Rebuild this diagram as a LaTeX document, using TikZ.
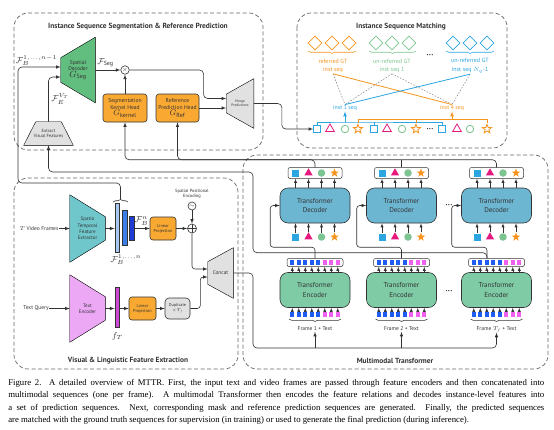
\RequirePackage{fix-cm}
\documentclass[tikz,border=0pt]{standalone}
\usepackage{fontspec}
\setmainfont{PT Sans}
\newfontfamily\capfont{Liberation Serif}
\usepackage{amsmath}
\usetikzlibrary{shapes.geometric,calc,backgrounds,decorations.pathreplacing,positioning}

\definecolor{linegray}{HTML}{333333}
\definecolor{decgreen}{HTML}{62BE7F}
\definecolor{headorange}{HTML}{F9A932}
\definecolor{boxgray}{HTML}{E1E1E1}
\definecolor{stfeteal}{HTML}{6FC7CB}
\definecolor{txtpink}{HTML}{ECA8F5}
\definecolor{tfblue}{HTML}{6DB6D2}
\definecolor{tfgreen}{HTML}{7ECBA6}
\definecolor{fmlight}{HTML}{A7C9F0}
\definecolor{fmmid}{HTML}{3B7FE6}
\definecolor{fmdark}{HTML}{1E3BD4}
\definecolor{fmpink}{HTML}{D046D6}
\definecolor{icblue}{HTML}{2BA6E1}
\definecolor{icpink}{HTML}{E5197E}
\definecolor{icgreen}{HTML}{7DC590}
\definecolor{icorange}{HTML}{F7941E}
\definecolor{tokblue}{HTML}{1F5CF2}
\definecolor{tokpink}{HTML}{F060F0}

\newcommand{\fsz}[2]{\fontsize{#1}{#2}\selectfont}
\newcommand{\dotrow}{\textbullet\kern0.3pt\textbullet\kern0.3pt\textbullet}
% trapezoids drawn behind a (text only) node
\newcommand{\trapleft}[3]{% narrow side on the left
  \begin{scope}[on background layer]
    \filldraw[fill=#3] ($(#1.north west)+(0,#2)$) -- (#1.north east) -- (#1.south east) -- ($(#1.south west)+(0,-#2)$) -- cycle;
  \end{scope}}
\newcommand{\trapright}[3]{% narrow side on the right
  \begin{scope}[on background layer]
    \filldraw[fill=#3] (#1.north west) -- ($(#1.north east)+(0,#2)$) -- ($(#1.south east)+(0,-#2)$) -- (#1.south west) -- cycle;
  \end{scope}}
\newcommand{\traptop}[3]{% narrow side on top
  \begin{scope}[on background layer]
    \filldraw[fill=#3] ($(#1.north west)+(#2,0)$) -- ($(#1.north east)+(-#2,0)$) -- (#1.south east) -- (#1.south west) -- cycle;
  \end{scope}}

\tikzset{%
  dashbox/.style  = {draw=black!60, dash pattern=on 4pt off 2.5pt, rounded corners=14pt, line width=0.7pt},
  boxtitle/.style = {font=\bfseries\fsz{7.4}{8}, inner sep=1pt},
  head/.style     = {draw, fill=headorange, rounded corners=3pt, align=center, inner sep=0pt},
  tfblock/.style  = {draw, rounded corners=8pt, align=center, minimum width=70pt,
    minimum height=35pt, font=\fsz{7}{9.5}},
  trapnode/.style = {align=center, inner sep=0pt},
  tokbox/.style   = {draw, fill=white, rounded corners=2pt, line width=0.5pt},
  tok/.style      = {rectangle, minimum size=4.3pt, inner sep=0pt},
  fbar/.style     = {draw, minimum width=4.5pt, inner sep=0pt, line width=0.4pt},
  lbl/.style      = {inner sep=0.5pt, align=center},
  mathlbl/.style  = {inner sep=0.5pt, font=\fsz{8.5}{8.5}},
  dots/.style     = {inner sep=0.5pt, font=\fsz{4.5}{4.5}},
  thinarrow/.style= {-latex, line width=0.4pt},
  plusnode/.style = {circle, draw, minimum size=9pt, inner sep=0pt,
    path picture={\draw (path picture bounding box.north) -- (path picture bounding box.south)
      (path picture bounding box.west) -- (path picture bounding box.east);}},
  % filled query / prediction icons
  fsq/.style      = {rectangle, fill=icblue, minimum size=7pt, inner sep=0pt},
  ftri/.style     = {regular polygon, regular polygon sides=3, fill=icpink, minimum size=9.5pt, inner sep=0pt},
  fcirc/.style    = {circle, fill=icgreen, minimum size=7.5pt, inner sep=0pt},
  fstar/.style    = {star, star points=5, star point ratio=2.4, fill=icorange, minimum size=9pt, inner sep=0pt},
  % outlined icons of the prediction sequences
  osq/.style      = {rectangle, draw=icblue, line width=0.8pt, minimum size=7pt, inner sep=0pt},
  otri/.style     = {regular polygon, regular polygon sides=3, draw=icpink, line width=0.8pt, minimum size=10pt, inner sep=0pt},
  ocirc/.style    = {circle, draw=icgreen, line width=0.8pt, minimum size=7.5pt, inner sep=0pt},
  ostar/.style    = {star, star points=5, star point ratio=2.4, draw=icorange, line width=0.8pt, minimum size=9.5pt, inner sep=0pt},
  gtdia/.style    = {diamond, aspect=1, line width=0.8pt, minimum size=14pt, inner sep=0pt}
}

\begin{document}
\begin{tikzpicture}[x=1pt, y=-1pt, line width=0.6pt, color=linegray]
  \useasboundingbox (0,0) rectangle (554,429);
  \begin{scope}[on background layer]
    \fill[white] (0,0) rectangle (554,429);
  \end{scope}

  % the four groups
  \draw[dashbox] (14,13) rectangle (263,150);
  \draw[dashbox] (297,13) rectangle (507,148);
  \draw[dashbox] (14,178) rectangle (238,369);
  \draw[dashbox] (243,155) rectangle (548,369);

  % ---------------- segmentation & reference prediction
  \node[boxtitle] (tltitle) at (138,27) {Instance Sequence Segmentation \& Reference Prediction};
  \node[trapnode, minimum width=34, minimum height=65, font=\fsz{5.5}{6.5}] (segdec) at (78,70)
    {Spatial\\Decoder\\{\fsz{9}{9}$G_{\mathrm{Seg}}$}};
  \trapleft{segdec}{20.5}{decgreen}
  \node[circle, draw, minimum size=8.5, inner sep=0, font=\fsz{6}{6}] (mult) at (125,70) {$\times$};
  \node[mathlbl] (fseg) at (105.5,63) {$\mathcal{F}_{\mathrm{Seg}}$};
  \node[head, minimum width=44, minimum height=28, font=\fsz{5.6}{6.5}] (kernhead) at (125,108)
    {Segmentation\\Kernel Head\\{\fsz{8}{8}$G_{\mathrm{kernel}}$}};
  \node[head, minimum width=43, minimum height=28, font=\fsz{5.6}{6.5}] (refhead) at (177.5,108)
    {Reference\\Prediction Head\\{\fsz{8}{8}$G_{\mathrm{Ref}}$}};
  \node[trapnode, minimum width=27, minimum height=49, font=\fsz{3.6}{4.4}] (merge) at (240,103.5)
    {Merge\\Predictions};
  \trapleft{merge}{15.5}{boxgray}
  \node[trapnode, minimum width=49, minimum height=23, font=\fsz{4.5}{5.3}] (extvis) at (48.5,133.5)
    {Extract\\Visual Features};
  \traptop{extvis}{12}{boxgray}
  \node[mathlbl] (fbprev) at (36.5,60.5) {$\mathcal{F}_B^{1,\ldots,n-1}$};
  \node[mathlbl] (fevr) at (60,99) {$\mathcal{F}_E^{V_T}$};

  \draw[-latex] (segdec.east) -- (mult);
  \draw[-latex] (kernhead) -- (mult);
  \draw[-latex, rounded corners=4] (mult.east) -- ++(74,0) |- ($(merge.west)+(0,-5)$);
  \draw[-latex] (refhead.east) -- (refhead.east -| merge.west);
  \draw[-latex, rounded corners=4] (extvis.north) |- ($(segdec.west)+(0,7)$);

  % ---------------- instance sequence matching
  \node[boxtitle] (trtitle) at (401,27) {Instance Sequence Matching};
  \foreach \k/\cx in {1/315,2/332,3/349} \node[gtdia, draw=icorange] (go\k) at (\cx,43) {};
  \foreach \k/\cx in {1/376,2/392,3/409} \node[gtdia, draw=icgreen] (gg\k) at (\cx,43) {};
  \foreach \k/\cx in {1/453,2/470,3/487} \node[gtdia, draw=icblue] (gb\k) at (\cx,43) {};
  \draw[icorange, decorate, decoration={brace, amplitude=2.5pt}] (356,51) -- (308,51);
  \draw[icgreen, decorate, decoration={brace, amplitude=2.5pt}] (416,51) -- (369,51);
  \draw[icblue, decorate, decoration={brace, amplitude=2.5pt}] (494,51) -- (446,51);
  \node[lbl, font=\fsz{6}{8.5}, text=icorange] (gt1) at (333,66) {referred GT\\inst seq};
  \node[lbl, font=\fsz{6}{8.5}, text=icgreen] (gt2) at (392,66) {un-referred GT\\inst seq 1};
  \node[lbl, font=\fsz{6}{8.5}, text=icblue] (gt3) at (470,66) {un-referred GT\\inst seq $N_q$-1};
  \node[dots] (gtdots) at (430,55) {\dotrow};
  \node[lbl, font=\fsz{5.8}{6}, text=icblue] (in1) at (345,108) {inst 1 seq};
  \node[lbl, font=\fsz{5.8}{6}, text=icorange] (in4) at (452,108) {inst 4 seq};

  \draw[gray, dash pattern=on 1.5pt off 1.5pt, line width=0.5pt] (gt1.south) -- (in1.north);
  \draw[gray, dash pattern=on 1.5pt off 1.5pt, line width=0.5pt] (gt2.south) -- (in1.north);
  \draw[gray, dash pattern=on 1.5pt off 1.5pt, line width=0.5pt] (gt2.south) -- (in4.north);
  \draw[gray, dash pattern=on 1.5pt off 1.5pt, line width=0.5pt] (gt3.south) -- (in4.north);
  \draw[icorange, line width=0.8pt] (gt1.south) -- (in4.north);
  \draw[icblue, line width=0.8pt] (gt3.south) -- (in1.north);

  \foreach \k/\cx/\shp in {1/317/osq, 2/330/otri, 3/345/ocirc, 4/358/ostar, 5/374/osq, 6/387/otri,
      7/402/ocirc, 8/416/ostar, 9/442/osq, 10/457/otri, 11/470/ocirc, 12/487/ostar}
    \node[\shp] (pr\k) at (\cx,129) {};
  \node[dots] (prdots) at (430,129) {\dotrow};
  \coordinate (bbrk) at (345,122);
  \coordinate (obrk) at (452,119.5);
  \draw[icblue, line width=0.7pt] (pr1.north) |- (bbrk) -| (pr9.north);
  \draw[icblue, line width=0.7pt] (pr5.north) -- (pr5.north |- bbrk);
  \draw[icblue, -latex, line width=0.7pt] (bbrk) -- (in1.south);
  \draw[icorange, line width=0.7pt] (pr4.north) |- (obrk) -| (pr12.north);
  \draw[icorange, line width=0.7pt] (pr8.north) -- (pr8.north |- obrk);
  \draw[icorange, -latex, line width=0.7pt] (obrk) -- (in4.south);

  \draw[-latex, rounded corners=4] (merge.east) -- ++(28,0) |- (pr1.west);

  % ---------------- visual & linguistic feature extraction
  \node[boxtitle] (bltitle) at (128,361) {Visual \& Linguistic Feature Extraction};
  \node[lbl, font=\fsz{5.5}{6}] (vidin) at (39,228.5) {$T$ Video Frames};
  \node[trapnode, minimum width=35, minimum height=67, font=\fsz{5}{6.3}] (stfe) at (87.5,228.5)
    {Spatio\\Temporal\\Feature\\Extractor};
  \trapright{stfe}{22}{stfeteal}
  \node[fbar, fill=fmlight, minimum height=49] (fb1) at (117,227.5) {};
  \node[fbar, fill=fmmid, minimum height=35] (fb2) at (124.5,227.5) {};
  \node[fbar, fill=fmdark, minimum height=24] (fb3) at (131.5,228.5) {};
  \coordinate (fbl) at (113,202);
  \coordinate (fbr) at (128,202);
  \coordinate (fbtop) at (120.5,199.5);
  \coordinate (fbturn) at (18,183);
  \draw[decorate, decoration={brace, amplitude=2.5pt}] (fbl) -- (fbr);
  \node[mathlbl] (fball) at (126,259.5) {$\mathcal{F}_B^{1,\ldots,n}$};
  \node[mathlbl] (fbn) at (141.5,221) {$\mathcal{F}_B^{n}$};
  \node[head, minimum width=26, minimum height=23, font=\fsz{4.3}{5}] (linproj1) at (163,228.5) {Linear\\Projection};
  \node[plusnode] (plus) at (192,228.5) {};
  \node[circle, draw, minimum size=8, inner sep=0, font=\fsz{6}{6}] (posenc) at (192,206) {$\sim$};
  \node[lbl, font=\fsz{4.5}{5.3}] (pelab) at (192,194) {Spatial Positional\\Encoding};

  \node[lbl, font=\fsz{5.5}{6}] (txtin) at (36,308.5) {Text Query};
  \node[trapnode, minimum width=35, minimum height=67, font=\fsz{5}{6.3}] (txtenc) at (87.5,308.5)
    {Text\\Encoder};
  \trapright{txtenc}{22}{txtpink}
  \node[fbar, fill=fmpink, minimum height=40] (ftbar) at (117,307) {};
  \node[mathlbl] (ftlab) at (117.5,336) {$f_T$};
  \node[head, minimum width=27, minimum height=23, font=\fsz{4.3}{5}] (linproj2) at (142.5,308.5) {Linear\\Projection};
  \node[head, fill=boxgray, minimum width=25, minimum height=21, rounded corners=4,
    font=\fsz{4.2}{5}] (dup) at (177.5,308.5) {Duplicate\\$\times T_f$};
  \node[trapnode, minimum width=25, minimum height=50, font=\fsz{5.3}{6}] (concat) at (220.5,273) {Concat};
  \trapleft{concat}{14}{boxgray}

  \draw[-latex] (vidin.east) -- (stfe.west);
  \draw[-latex] (stfe.east) -- (fb1.west |- stfe.east);
  \draw[-latex] (fb3.east) -- (linproj1.west);
  \draw[-latex] (linproj1.east) -- (plus.west);
  \draw[-latex] (posenc.south) -- (plus.north);
  \draw[-latex, rounded corners=3] (plus.south) |- ($(concat.west)+(0,-4)$);
  \draw[-latex] (txtin.east) -- (txtenc.west);
  \draw[-latex] (txtenc.east) -- (ftbar.west |- txtenc.east);
  \draw[-latex] (ftbar.east |- linproj2) -- (linproj2.west);
  \draw[-latex] (linproj2.east) -- (dup.west);
  \draw[-latex, rounded corners=3] (dup.east) -- ++(10,0) |- ($(concat.west)+(0,4)$);
  \draw[-latex, rounded corners=4] (fbtop) |- (fbturn) |- ($(segdec.west)+(0,-3)$);

  % ---------------- multimodal transformer
  \node[boxtitle] (mmtitle) at (395,361) {Multimodal Transformer};
  \foreach \i/\cx/\fr/\so in {1/315/1/0, 2/401.5/2/0, 3/496.5/$T_f$/-9.5} {
    \node[tfblock, fill=tfblue] (dec\i) at (\cx,205.5) {Transformer\\Decoder};
    \node[tokbox, minimum width=54, minimum height=11] (do\i) at (\cx,173) {};
    \foreach \k/\dx/\shp in {1/-19.5/fsq, 2/-6.5/ftri, 3/6.5/fcirc, 4/19.5/fstar} {
      \node[\shp] (dq\i\k) at (\cx+\dx,237) {};
      \node[\shp] (dp\i\k) at (\cx+\dx,173) {};
      \draw[thinarrow] (dq\i\k.north) -- (dq\i\k.north |- dec\i.south);
      \draw[thinarrow] (dec\i.north -| dp\i\k) -- (dp\i\k |- do\i.south);
    }
    \node[tfblock, fill=tfgreen] (enc\i) at (\cx,290) {Transformer\\Encoder};
    \node[tokbox, minimum width=56, minimum height=8] (eo\i) at (\cx,262.5) {};
    \foreach \k/\tc in {0/tokblue,1/tokblue,2/tokblue,3/tokblue,4/tokblue,5/tokpink,6/tokpink,7/tokpink} {
      \pgfmathsetmacro\tx{\cx-22.75+6.5*\k}
      \node[tok, fill=\tc] (et\i\k) at (\tx,262.5) {};
      \node[tok, fill=\tc] (ei\i\k) at (\tx,314.5) {};
      \draw[thinarrow] (enc\i.north -| et\i\k) -- (et\i\k |- eo\i.south);
      \draw[thinarrow] (ei\i\k.north) -- (ei\i\k.north |- enc\i.south);
    }
    \draw[decorate, decoration={brace, amplitude=2.5pt}, line width=0.5pt] (\cx+26,319) -- (\cx-26,319);
    \node[lbl, font=\fsz{5.5}{6}] (fl\i) at (\cx,329) {Frame \fr{} + Text};
    % encoder output -> decoder memory
    \draw[-latex, rounded corners=3] ($(eo\i.north)+(\so,0)$) -- ++(0,-11) -| ($(dec\i.west)+(-9.5,0)$) -- (dec\i.west);
  }
  \node[dots] (decdots) at (449,205) {\dotrow};
  \node[dots] (encdots) at (449,291) {\dotrow};

  \coordinate (busbot) at (253,348);
  \coordinate (vbus) at (253,172);
  \draw[-latex, rounded corners=4] (concat.east) -| (busbot) -| (fl3.south);
  \draw[-latex] (fl1.south |- busbot) -- (fl1.south);
  \draw[-latex] (fl2.south |- busbot) -- (fl2.south);
  \draw[-latex, rounded corners=4] ($(eo3.north)+(-9.5,0)$) -- ++(0,-5.5) -| (vbus) -| (extvis.south);
  \draw[-latex, rounded corners=4] (do3.north) -- ++(0,-7.5) -| (kernhead.south);
  \draw[-latex, rounded corners=4] (do1.north) -- ++(0,-7.5) -| (refhead.south);
  \draw (do2.north) -- ++(0,-7.5);

  % ---------------- caption
  \node[anchor=north west, inner sep=0pt, align=left, color=black,
    font={\capfont\fontsize{8.75}{12.3}\selectfont}] (caption) at (8,379)
    {\makebox[536pt][s]{Figure 2. A detailed overview of MTTR. First, the input text and video frames are passed through feature encoders and then concatenated into}\\
     \makebox[536pt][s]{multimodal sequences (one per frame). A multimodal Transformer then encodes the feature relations and decodes instance-level features into}\\
     \makebox[536pt][s]{a set of prediction sequences. Next, corresponding mask and reference prediction sequences are generated. Finally, the predicted sequences}\\
     are matched with the ground truth sequences for supervision (in training) or used to generate the final prediction (during inference).};
\end{tikzpicture}
\end{document}
